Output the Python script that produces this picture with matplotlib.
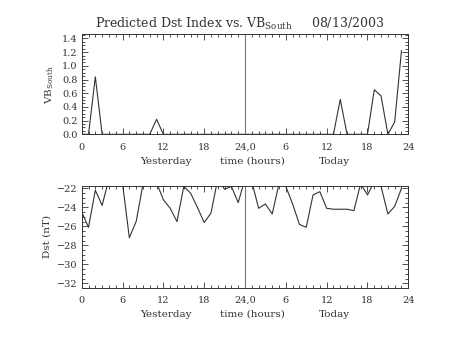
import numpy as np
import matplotlib
matplotlib.use("Agg")
import matplotlib.pyplot as plt
from matplotlib.ticker import MultipleLocator, FixedLocator

# hourly values, yesterday 00h .. today 23h
hours = np.arange(48)
vb_south = [0.0, 0.0, 0.84, 0.0, 0.0, 0.0, 0.0, 0.0, 0.0, 0.0, 0.0, 0.22,
            0.0, 0.0, 0.0, 0.0, 0.0, 0.0, 0.0, 0.0, 0.0, 0.0, 0.0, 0.0,
            0.0, 0.0, 0.0, 0.0, 0.0, 0.0, 0.0, 0.0, 0.0, 0.0, 0.0, 0.0,
            0.0, 0.0, 0.51, 0.0, 0.0, 0.0, 0.0, 0.65, 0.56, 0.0, 0.18, 1.22]
dst = [-24.5, -26.1, -22.2, -23.8, -21.0, -21.0, -21.5, -27.2, -25.5, -21.6,
       -21.0, -21.4, -23.2, -24.1, -25.5, -21.8, -22.5, -24.0, -25.6, -24.6,
       -21.0, -22.1, -21.8, -23.5, -21.0, -21.3, -24.1, -23.65, -24.7, -21.5,
       -21.8, -23.65, -25.8, -26.1, -22.7, -22.35, -24.1, -24.2, -24.2, -24.2,
       -24.35, -21.5, -22.7, -21.3, -21.8, -24.7, -23.9, -22.0]

xticks = [0, 6, 12, 18, 24, 30, 36, 42, 48]
xticklabels = ["0", "6", "12", "18", "24,0", "6", "12", "18", "24"]
day_labels = [(12.4, "Yesterday"), (25.1, "time (hours)"), (37.1, "Today")]

INK = "#333333"
plt.rcParams["font.family"] = "DejaVu Serif"
plt.rcParams["mathtext.fontset"] = "dejavuserif"

fig = plt.figure(figsize=(4.53, 3.40), dpi=100)
ax1 = fig.add_axes([0.1804, 0.605, 0.7209, 0.294])
ax2 = fig.add_axes([0.1804, 0.1538, 0.7209, 0.299])

ax1.plot(hours, vb_south, color=INK, lw=0.8)
ax1.set_ylim(0, 1.46)
ax1.yaxis.set_major_locator(MultipleLocator(0.2))
ax1.yaxis.set_minor_locator(MultipleLocator(0.05))

ax2.plot(hours, dst, color=INK, lw=0.8)
ax2.set_ylim(-32.46, -21.76)
ax2.yaxis.set_major_locator(MultipleLocator(2))
ax2.yaxis.set_minor_locator(MultipleLocator(0.5))

for ax in (ax1, ax2):
    ax.set_xlim(0, 48)
    ax.xaxis.set_major_locator(FixedLocator(xticks))
    ax.xaxis.set_minor_locator(MultipleLocator(1))
    ax.set_xticklabels(xticklabels)
    ax.tick_params(which="both", direction="in", top=True, right=True,
                   color=INK, labelcolor=INK, labelsize=7, width=0.6)
    ax.tick_params(axis="x", pad=6)
    ax.tick_params(axis="y", pad=3)
    ax.tick_params(which="major", length=4)
    ax.tick_params(which="minor", length=2)
    for sp in ax.spines.values():
        sp.set_color(INK)
        sp.set_linewidth(0.7)
    ax.axvline(24, color="#777777", lw=0.8)
    tr = ax.get_xaxis_transform()
    for xpos, lab in day_labels:
        ax.annotate(lab, xy=(xpos, 0), xycoords=tr, xytext=(0, -16),
                    textcoords="offset points", fontsize=7.5, color=INK,
                    ha="center", va="top", annotation_clip=False)

ax1.set_ylabel("VB$_{\\mathregular{South}}$", fontsize=7.5, color=INK, labelpad=4)
ax2.set_ylabel("Dst (nT)", fontsize=7.5, color=INK, labelpad=4)

fig.text(0.53, 0.93, "Predicted Dst Index vs. VB$_{\\mathregular{South}}$     08/13/2003",
         ha="center", va="center", fontsize=9, color=INK)

fig.savefig("out.png", dpi=100)
